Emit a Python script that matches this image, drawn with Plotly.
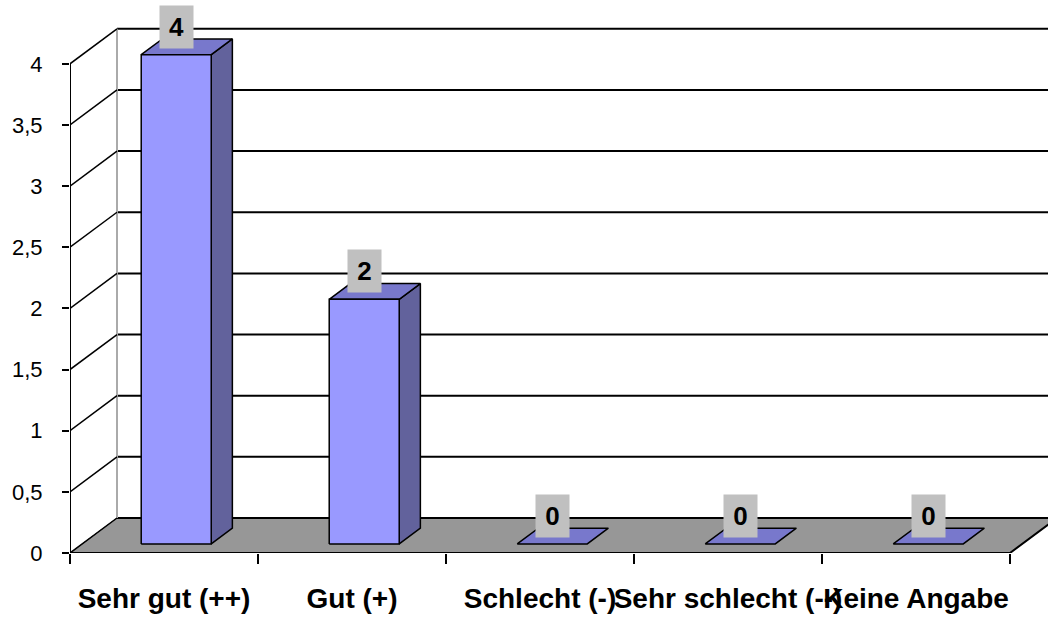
import plotly.graph_objects as go

categories = ["Sehr gut (++)", "Gut (+)", "Schlecht (-)", "Sehr schlecht (--)", "Keine Angabe"]
values = [4, 2, 0, 0, 0]
y_ticks = [0, 0.5, 1, 1.5, 2, 2.5, 3, 3.5, 4]
y_ticktext = ["0", "0,5", "1", "1,5", "2", "2,5", "3", "3,5", "4"]

# geometry of the pseudo-3D box (pixel based scale factors)
W, H = 1048, 619
ML, MB = 70, 66
PX_X = 188.0          # pixels per category
PX_Y = 122.3          # pixels per value unit
DX = 47 / PX_X        # depth offset in x (category units)
DY = 35 / PX_Y        # depth offset in y (value units)
Z0, Z1 = 0.26, 0.71   # bar depth extent
BW = 70 / PX_X        # bar width
NCAT = len(categories)
YMAX = max(y_ticks)

FRONT = "#9999ff"
SIDE = "#62629c"
TOP = "#7878cc"
FLOOR = "#979797"
FONT = "Arial, Liberation Sans, sans-serif"


def p(x, y, z):
    return x + z * DX, y + z * DY


def poly(pts):
    xs = [q[0] for q in pts] + [pts[0][0]]
    ys = [q[1] for q in pts] + [pts[0][1]]
    return xs, ys


fig = go.Figure()

# floor
fx, fy = poly([p(0, 0, 0), p(NCAT, 0, 0), p(NCAT, 0, 1), p(0, 0, 1)])
fig.add_trace(go.Scatter(x=fx, y=fy, mode="lines", fill="toself", fillcolor=FLOOR,
                         line=dict(color="#555555", width=1), hoverinfo="skip"))

# back wall gridlines
gx, gy = [], []
for v in y_ticks:
    if v == 0:
        continue
    a, b = p(0, v, 1), p(NCAT, v, 1)
    gx += [a[0], b[0], None]
    gy += [a[1], b[1], None]
a, b = p(0, 0, 1), p(NCAT, 0, 1)
gx += [a[0], b[0], None]
gy += [a[1], b[1], None]
fig.add_trace(go.Scatter(x=gx, y=gy, mode="lines", line=dict(color="black", width=2),
                         hoverinfo="skip"))

# left wall back edge (gray)
a, b = p(0, 0, 1), p(0, YMAX, 1)
fig.add_trace(go.Scatter(x=[a[0], b[0]], y=[a[1], b[1]], mode="lines",
                         line=dict(color="#aaaaaa", width=2), hoverinfo="skip"))

# left wall diagonals
lx, ly = [], []
for v in y_ticks:
    a, b = p(0, v, 0), p(0, v, 1)
    lx += [a[0], b[0], None]
    ly += [a[1], b[1], None]
fig.add_trace(go.Scatter(x=lx, y=ly, mode="lines", line=dict(color="black", width=1.5),
                         hoverinfo="skip"))

# floor front and right edges
a, b, c = p(0, 0, 0), p(NCAT, 0, 0), p(NCAT, 0, 1)
fig.add_trace(go.Scatter(x=[a[0], b[0], c[0]], y=[a[1], b[1], c[1]], mode="lines",
                         line=dict(color="black", width=2), hoverinfo="skip"))

# y axis line
a, b = p(0, 0, 0), p(0, YMAX, 0)
fig.add_trace(go.Scatter(x=[a[0], b[0]], y=[a[1], b[1]], mode="lines",
                         line=dict(color="black", width=2), hoverinfo="skip"))

# bars
for i, v in enumerate(values):
    c = i + 0.5
    xl, xr = c - BW / 2, c + BW / 2
    if v > 0:
        sx, sy = poly([p(xr, 0, Z0), p(xr, v, Z0), p(xr, v, Z1), p(xr, 0, Z1)])
        fig.add_trace(go.Scatter(x=sx, y=sy, mode="lines", fill="toself", fillcolor=SIDE,
                                 line=dict(color="black", width=1.5), hoverinfo="skip"))
    tx, ty = poly([p(xl, v, Z0), p(xr, v, Z0), p(xr, v, Z1), p(xl, v, Z1)])
    fig.add_trace(go.Scatter(x=tx, y=ty, mode="lines", fill="toself", fillcolor=TOP,
                             line=dict(color="black", width=1.5), hoverinfo="skip"))
    if v > 0:
        ffx, ffy = poly([p(xl, 0, Z0), p(xr, 0, Z0), p(xr, v, Z0), p(xl, v, Z0)])
        fig.add_trace(go.Scatter(x=ffx, y=ffy, mode="lines", fill="toself", fillcolor=FRONT,
                                 line=dict(color="black", width=1.5), hoverinfo="skip"))
    lxp, lyp = p(c, v, Z0)
    fig.add_annotation(x=lxp, y=lyp + 28 / PX_Y, text=f"<b>{v}</b>", showarrow=False,
                       xanchor="center", yanchor="middle", width=33, height=42,
                       bgcolor="#c0c0c0", borderpad=0,
                       font=dict(family=FONT, size=26, color="black"))

fig.update_layout(
    width=W, height=H,
    margin=dict(l=ML, r=0, t=0, b=MB, autoexpand=False),
    paper_bgcolor="white", plot_bgcolor="white",
    showlegend=False,
    xaxis=dict(range=[0, (W - ML) / PX_X], tickvals=[i + 0.5 for i in range(NCAT)],
               ticktext=categories, tickangle=0, ticks="", showgrid=False, zeroline=False,
               showline=False, automargin=False,
               tickfont=dict(family=FONT, size=28, color="black", weight="bold"),
               ticklabelstandoff=26,
               minor=dict(tickmode="array", tickvals=list(range(NCAT + 1)), ticks="outside",
                          ticklen=10, tickwidth=1.5, tickcolor="black", showgrid=False),
               fixedrange=True),
    yaxis=dict(range=[0, (H - MB) / PX_Y], tickvals=y_ticks, ticktext=y_ticktext,
               ticks="outside", ticklen=7, tickwidth=1.5, tickcolor="black",
               showgrid=False, zeroline=False, showline=False, automargin=False,
               tickfont=dict(family=FONT, size=22, color="black"),
               ticklabelstandoff=15, fixedrange=True),
)
fig.write_html("out.html", config={"displayModeBar": False},
               post_script="document.body.style.margin='0';document.body.style.overflow='hidden';")
